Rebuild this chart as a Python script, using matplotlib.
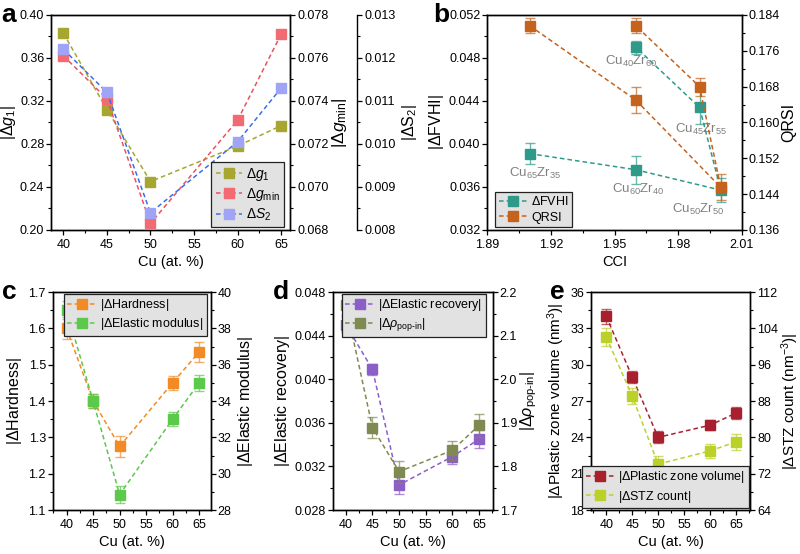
import matplotlib.pyplot as plt
from matplotlib.ticker import MultipleLocator

plt.rcParams['font.family'] = ['Liberation Sans', 'DejaVu Sans']
plt.rcParams['mathtext.fontset'] = 'custom'
plt.rcParams['mathtext.rm'] = 'Liberation Sans'
plt.rcParams['mathtext.it'] = 'Liberation Sans:italic'
plt.rcParams['mathtext.bf'] = 'Liberation Sans:bold'
plt.rcParams['axes.linewidth'] = 1.0

# composition, Cu at.%
cu = [40, 45, 50, 60, 65]

# panel a
dg1 = [0.383, 0.312, 0.245, 0.278, 0.297]
dgmin = [0.0761, 0.0741, 0.0683, 0.0731, 0.0771]
ds2 = [0.0122, 0.0112, 0.0084, 0.01005, 0.0113]

# panel b (ordered Cu65, Cu60, Cu50, Cu45, Cu40)
alloys = ["Cu$_{65}$Zr$_{35}$", "Cu$_{60}$Zr$_{40}$", "Cu$_{50}$Zr$_{50}$",
          "Cu$_{45}$Zr$_{55}$", "Cu$_{40}$Zr$_{60}$"]
cci = [1.91, 1.96, 2.00, 1.99, 1.96]
fvhi = [0.0391, 0.0376, 0.0357, 0.0434, 0.0490]
fvhi_err = [0.0010, 0.0013, 0.0011, 0.0015, 0.0006]
qrsi = [0.1816, 0.1650, 0.1455, 0.1680, 0.1816]
qrsi_err = [0.0017, 0.0030, 0.0029, 0.0020, 0.0017]

# panel c
hardness = [1.60, 1.40, 1.275, 1.45, 1.535]
hardness_err = [0.03, 0.02, 0.028, 0.02, 0.028]
modulus = [39.0, 34.0, 28.85, 33.0, 35.0]
modulus_err = [0.5, 0.4, 0.45, 0.4, 0.45]

# panel d
recovery = [0.0450, 0.0409, 0.0303, 0.0329, 0.0345]
recovery_err = [0.0007, 0.0005, 0.0008, 0.0007, 0.0008]
popin = [2.17, 1.889, 1.788, 1.837, 1.894]
popin_err = [0.023, 0.024, 0.025, 0.022, 0.026]

# panel e
plastic = [34.0, 29.0, 24.0, 25.0, 26.0]
plastic_err = [0.6, 0.5, 0.5, 0.4, 0.5]
stz = [102.1, 89.1, 74.1, 77.0, 79.0]
stz_err = [2.0, 1.7, 1.8, 1.5, 1.8]

TICK_FS = 9
XLAB_FS = 10.5
YLAB_FS = 11.5
LEG_FS = 9
DASH = (0, (3, 2))


def style_ticks(ax, side='left'):
    ax.tick_params(which='major', direction='out', length=3.5, width=0.9, labelsize=TICK_FS)
    ax.tick_params(which='minor', direction='out', length=2, width=0.8)
    ax.tick_params(axis='y', which='major', pad=1.5)
    ax.tick_params(axis='x', which='major', pad=3)
    if side == 'right':
        ax.tick_params(axis='y', which='both', left=False, right=True, labelleft=False, labelright=True)
    else:
        ax.tick_params(axis='y', which='both', right=False)
    ax.tick_params(axis='x', which='both', top=False)


def set_y(ax, lo, hi, step):
    ax.set_ylim(lo, hi)
    ax.yaxis.set_major_locator(MultipleLocator(step))
    ax.yaxis.set_minor_locator(MultipleLocator(step / 2))


def cu_axis(ax, xlim):
    ax.set_xlim(*xlim)
    ax.xaxis.set_major_locator(MultipleLocator(5))
    ax.xaxis.set_minor_locator(MultipleLocator(2.5))
    ax.set_xlabel("Cu (at. %)", fontsize=XLAB_FS, labelpad=3)


def series(ax, x, y, color, label, err=None, line_color=None):
    if err is not None:
        ax.errorbar(x, y, yerr=err, fmt='none', ecolor=color, elinewidth=1.0,
                    capsize=3.5, capthick=1.0, alpha=0.7, zorder=2)
    line, = ax.plot(x, y, ls=DASH, lw=1.1, color=line_color or color, marker='s',
                    ms=7, mfc=color, mec=color, label=label, zorder=3)
    return line


def legend(ax, handles, size=LEG_FS, hlen=2.3, **kw):
    leg = ax.legend(handles=handles, fontsize=size, frameon=True, fancybox=False,
                    facecolor='#e2e2e2', edgecolor='#222222', framealpha=1,
                    handlelength=hlen, handletextpad=0.3, borderpad=0.3,
                    labelspacing=0.25, borderaxespad=0, **kw)
    leg.get_frame().set_linewidth(0.9)
    return leg


fig = plt.figure(figsize=(8, 5.54), dpi=100)

# ---------- a ----------
ax = fig.add_axes([0.064, 0.585, 0.2988, 0.388])
ax2 = ax.twinx()
ax3 = ax.twinx()
ax3.spines['right'].set_position(('axes', 1.28))
for s in ('left', 'top', 'bottom'):
    ax3.spines[s].set_visible(False)
cu_axis(ax, (38.6, 66.05))
set_y(ax, 0.20, 0.40, 0.04)
set_y(ax2, 0.068, 0.078, 0.002)
set_y(ax3, 0.008, 0.013, 0.001)
ax.yaxis.set_major_formatter(lambda v, p: f"{v:.2f}")
ax2.yaxis.set_major_formatter(lambda v, p: f"{v:.3f}")
ax3.yaxis.set_major_formatter(lambda v, p: f"{v:.3f}")
style_ticks(ax)
style_ticks(ax2, 'right')
style_ticks(ax3, 'right')
h1 = series(ax, cu, dg1, '#a6a630', r'$\Delta g_1$')
h2 = series(ax2, cu, dgmin, '#f26a72', r'$\Delta g_{\mathrm{min}}$', line_color='#ec5060')
h3 = series(ax3, cu, ds2, '#a0a4f6', r'$\Delta S_2$', line_color='#3a6ee8')
ax.set_ylabel(r'$|\Delta g_1|$', fontsize=YLAB_FS, labelpad=1)
ax2.set_ylabel(r'$|\Delta g_{\mathrm{min}}|$', fontsize=YLAB_FS + 1, labelpad=1)
ax3.set_ylabel(r'$|\Delta \mathrm{S}_2|$', fontsize=YLAB_FS, labelpad=3)
legend(ax3, [h1, h2, h3], size=10, hlen=1.9, loc='lower right', bbox_to_anchor=(0.975, 0.012))

# ---------- b ----------
ax = fig.add_axes([0.609, 0.585, 0.3185, 0.388])
ax2 = ax.twinx()
ax.set_xlim(1.89, 2.01)
ax.xaxis.set_major_locator(MultipleLocator(0.03))
ax.xaxis.set_minor_locator(MultipleLocator(0.015))
ax.xaxis.set_major_formatter(lambda v, p: f"{v:.2f}")
set_y(ax, 0.032, 0.052, 0.004)
set_y(ax2, 0.136, 0.184, 0.008)
ax.yaxis.set_major_formatter(lambda v, p: f"{v:.3f}")
ax2.yaxis.set_major_formatter(lambda v, p: f"{v:.3f}")
style_ticks(ax)
style_ticks(ax2, 'right')
hb1 = series(ax, cci, fvhi, '#2f9a8a', r'$\Delta$FVHI', err=fvhi_err)
hb2 = series(ax2, cci, qrsi, '#c4621e', 'QRSI', err=qrsi_err)
offsets = [(4, -14), (2, -14), (-16, -14), (1, -16), (-3, -10)]
for name, xv, yv, off in zip(alloys, cci, fvhi, offsets):
    ax.annotate(name, (xv, yv), xytext=off, textcoords='offset points',
                ha='center', va='center', fontsize=9.5, color='#808080', zorder=5)
ax.set_xlabel("CCI", fontsize=XLAB_FS, labelpad=3)
ax.set_ylabel(r'|$\Delta$FVHI|', fontsize=YLAB_FS, labelpad=2)
ax2.set_ylabel('QRSI', fontsize=YLAB_FS, labelpad=1)
legend(ax2, [hb1, hb2], loc='lower left', bbox_to_anchor=(0.03, 0.012))

# ---------- c ----------
ax = fig.add_axes([0.066, 0.0794, 0.1975, 0.3935])
ax2 = ax.twinx()
cu_axis(ax, (37.4, 67.2))
set_y(ax, 1.1, 1.7, 0.1)
set_y(ax2, 28, 40, 2)
ax.yaxis.set_major_formatter(lambda v, p: f"{v:.1f}")
style_ticks(ax)
style_ticks(ax2, 'right')
hc1 = series(ax, cu, hardness, '#f28a26', r'|$\Delta$Hardness|', err=hardness_err)
hc2 = series(ax2, cu, modulus, '#5cc84c', r'|$\Delta$Elastic modulus|', err=modulus_err)
ax.set_ylabel(r'|$\Delta$Hardness|', fontsize=YLAB_FS, labelpad=3)
ax2.set_ylabel(r'|$\Delta$Elastic modulus|', fontsize=YLAB_FS, labelpad=3)
legend(ax2, [hc1, hc2], loc='upper right', bbox_to_anchor=(0.975, 0.993))

# ---------- d ----------
ax = fig.add_axes([0.416, 0.0794, 0.2, 0.3935])
ax2 = ax.twinx()
cu_axis(ax, (37.55, 67.6))
set_y(ax, 0.028, 0.048, 0.004)
set_y(ax2, 1.7, 2.2, 0.1)
ax.yaxis.set_major_formatter(lambda v, p: f"{v:.3f}")
ax2.yaxis.set_major_formatter(lambda v, p: f"{v:.1f}")
style_ticks(ax)
style_ticks(ax2, 'right')
hd1 = series(ax, cu, recovery, '#8c5ec8', r'|$\Delta$Elastic recovery|', err=recovery_err)
hd2 = series(ax2, cu, popin, '#7e8a52', r'$|\Delta \rho_{\mathrm{pop‐in}}|$', err=popin_err)
ax.set_ylabel(r'|$\Delta$Elastic recovery|', fontsize=YLAB_FS, labelpad=2)
ax2.set_ylabel(r'$|\Delta \rho_{\mathrm{pop‐in}}|$', fontsize=YLAB_FS, labelpad=1)
legend(ax2, [hd1, hd2], loc='upper right', bbox_to_anchor=(0.955, 0.993))

# ---------- e ----------
ax = fig.add_axes([0.739, 0.0794, 0.199, 0.3935])
ax2 = ax.twinx()
cu_axis(ax, (37.1, 67.8))
set_y(ax, 18, 36, 3)
set_y(ax2, 64, 112, 8)
style_ticks(ax)
style_ticks(ax2, 'right')
he1 = series(ax, cu, plastic, '#a8202e', r'|$\Delta$Plastic zone volume|', err=plastic_err)
he2 = series(ax2, cu, stz, '#bcd02a', r'|$\Delta$STZ count|', err=stz_err)
ax.set_ylabel(r'|$\Delta$Plastic zone volume (nm$^3$)|', fontsize=YLAB_FS - 0.5, labelpad=2)
ax2.set_ylabel(r'|$\Delta$STZ count (nm$^{-3}$)|', fontsize=YLAB_FS - 0.5, labelpad=1)
legend(ax2, [he1, he2], loc='lower right', bbox_to_anchor=(0.99, 0.008))

# panel letters
for letter, xf, yf in [('a', 0.002, 0.973), ('b', 0.541, 0.973), ('c', 0.002, 0.473),
                       ('d', 0.341, 0.473), ('e', 0.687, 0.473)]:
    fig.text(xf, yf, letter, fontsize=19, fontweight='bold', ha='left', va='center')

fig.savefig('out.png', dpi=100)
